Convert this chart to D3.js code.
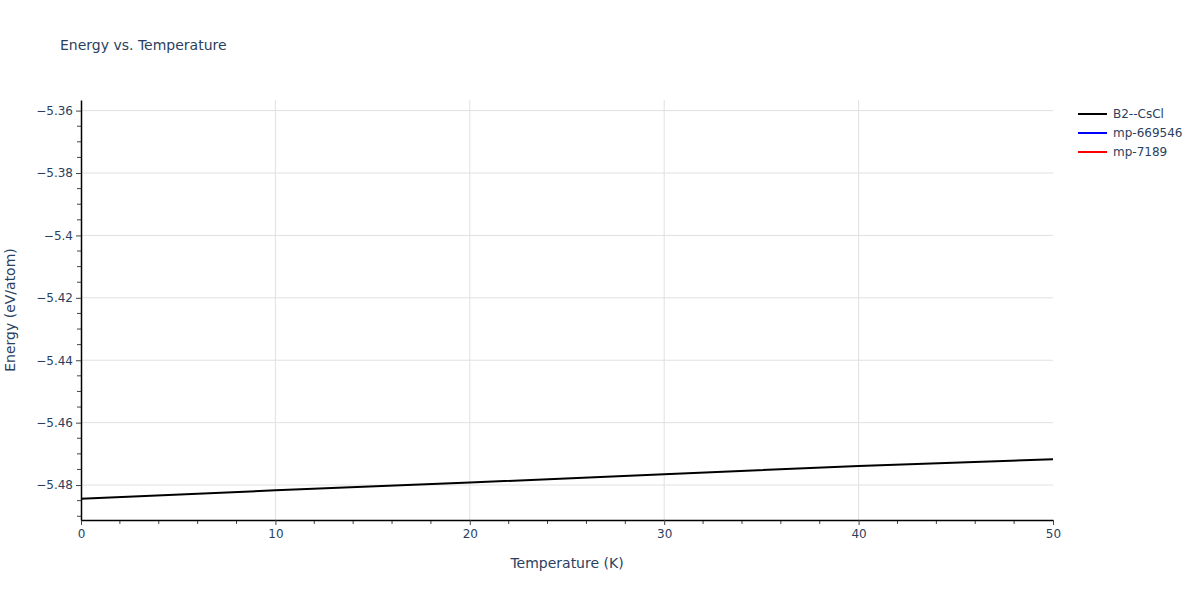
<!DOCTYPE html>
<html>
<head>
<meta charset="utf-8">
<script src="https://cdn.jsdelivr.net/npm/d3@7"></script>
<style>
  body { margin: 0; background: #fff; }
  text { font-family: "DejaVu Sans", verdana, arial, sans-serif; fill: #2a3f5f; }
</style>
</head>
<body>
<div id="chart"></div>
<script>
// data
const temps = [0, 10, 20, 30, 40, 50];
const energyB2 = [-5.4844, -5.4817, -5.4792, -5.4765, -5.4739, -5.4717];
const seriesNames = ["B2--CsCl", "mp-669546", "mp-7189"];
const seriesColors = ["black", "blue", "red"];
const xTicks = [0, 10, 20, 30, 40, 50];
const yTicks = [-5.36, -5.38, -5.4, -5.42, -5.44, -5.46, -5.48];

const margin = { top: 100, right: 147, bottom: 80, left: 81 };
const width = 1200 - margin.left - margin.right;
const height = 600 - margin.top - margin.bottom;

const svgRoot = d3.select("#chart").append("svg")
    .attr("width", 1200)
    .attr("height", 600);

const svg = svgRoot.append("g")
    .attr("transform", `translate(${margin.left},${margin.top})`);

// scales
const x = d3.scaleLinear().domain([0, 50]).range([0, width]);
const y = d3.scaleLinear().domain([-5.4912, -5.3566]).range([height, 0]);

// grid
svg.append("g").selectAll("line")
    .data(yTicks)
    .join("line")
    .attr("x1", 0).attr("x2", width)
    .attr("y1", d => y(d)).attr("y2", d => y(d))
    .attr("stroke", "#e1e1e1").attr("stroke-width", 1);

svg.append("g").selectAll("line")
    .data(xTicks.filter(d => d > 0 && d < 50))
    .join("line")
    .attr("y1", 0).attr("y2", height)
    .attr("x1", d => x(d)).attr("x2", d => x(d))
    .attr("stroke", "#e1e1e1").attr("stroke-width", 1);

// line
const series = [
    { name: seriesNames[0], color: seriesColors[0], values: temps.map((t, i) => ({ t: t, e: energyB2[i] })) },
    { name: seriesNames[1], color: seriesColors[1], values: [] },
    { name: seriesNames[2], color: seriesColors[2], values: [] }
];

const line = d3.line()
    .x(d => x(d.t))
    .y(d => y(d.e));

svg.selectAll("path.data-line")
    .data(series)
    .join("path")
    .attr("class", "data-line")
    .attr("d", d => d.values.length ? line(d.values) : null)
    .attr("fill", "none")
    .attr("stroke", d => d.color)
    .attr("stroke-width", 2);

// minor ticks
const xMinor = d3.range(0, 51, 2).filter(d => d % 10 !== 0);
svg.append("g").selectAll("line")
    .data(xMinor)
    .join("line")
    .attr("x1", d => x(d)).attr("x2", d => x(d))
    .attr("y1", height).attr("y2", height + 4)
    .attr("stroke", "#444").attr("stroke-width", 1);

const yMinor = d3.range(-5.49, -5.355, 0.005).filter(d => !yTicks.some(t => Math.abs(t - d) < 1e-6));
svg.append("g").selectAll("line")
    .data(yMinor)
    .join("line")
    .attr("y1", d => y(d)).attr("y2", d => y(d))
    .attr("x1", -4).attr("x2", 0)
    .attr("stroke", "#444").attr("stroke-width", 1);

// axes
const xAxis = svg.append("g")
    .attr("transform", `translate(0,${height})`)
    .call(d3.axisBottom(x).tickValues(xTicks).tickSize(5).tickPadding(4).tickSizeOuter(0));
const yAxis = svg.append("g")
    .call(d3.axisLeft(y).tickValues(yTicks).tickSize(5).tickPadding(3).tickSizeOuter(0)
        .tickFormat(d => d3.format("")(d).replace("-", "\u2212")));

[xAxis, yAxis].forEach(a => {
    a.select(".domain").attr("stroke", "black").attr("stroke-width", 1.5);
    a.selectAll(".tick line").attr("stroke", "#444");
    a.selectAll(".tick text").attr("font-size", 12).attr("fill", "#2a3f5f")
        .style("font-family", "'DejaVu Sans', verdana, arial, sans-serif");
});

// title
svgRoot.append("text")
    .attr("x", 60).attr("y", 50)
    .attr("font-size", 14)
    .text("Energy vs. Temperature");

// axis labels
svgRoot.append("text")
    .attr("x", margin.left + width / 2)
    .attr("y", 568)
    .attr("text-anchor", "middle")
    .attr("font-size", 14)
    .text("Temperature (K)");

svgRoot.append("text")
    .attr("transform", "rotate(-90)")
    .attr("x", -(margin.top + height / 2))
    .attr("y", 15)
    .attr("text-anchor", "middle")
    .attr("font-size", 14)
    .text("Energy (eV/atom)");

// legend
const legend = svgRoot.append("g")
    .attr("transform", "translate(1078,114)");
const items = legend.selectAll("g")
    .data(series)
    .join("g")
    .attr("transform", (d, i) => `translate(0,${i * 19})`);
items.append("line")
    .attr("x1", 0).attr("x2", 29)
    .attr("stroke", d => d.color).attr("stroke-width", 2);
items.append("text")
    .attr("x", 35).attr("y", 4)
    .attr("font-size", 12)
    .text(d => d.name);
</script>
</body>
</html>
